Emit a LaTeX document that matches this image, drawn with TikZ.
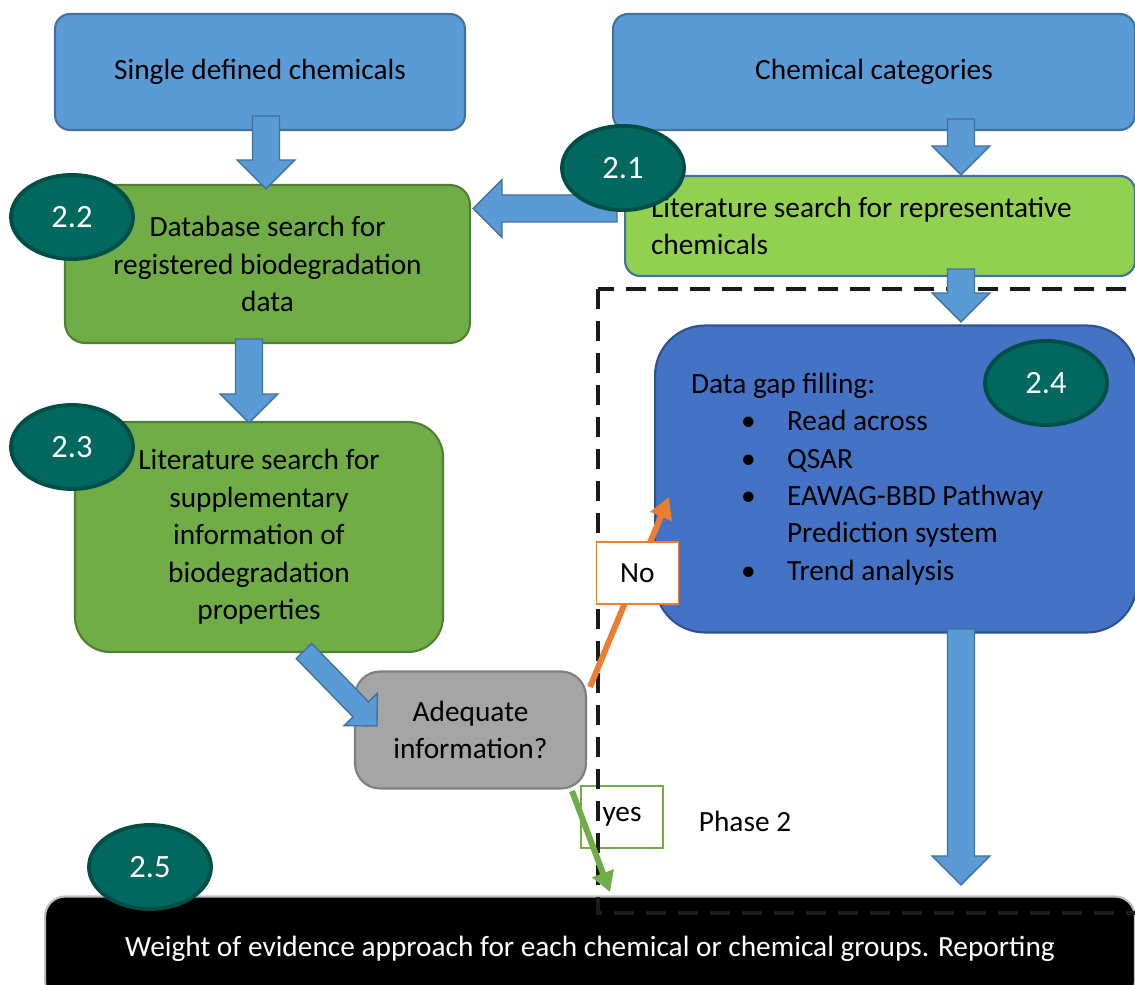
\documentclass[tikz,border=0pt]{standalone}
\usepackage{fontspec}
\setmainfont{Carlito}
\usetikzlibrary{shapes.geometric,arrows.meta,calc}

\definecolor{boxblue}{HTML}{5B9BD5}
\definecolor{boxblueedge}{HTML}{41719C}
\definecolor{boxgreen}{HTML}{70AD47}
\definecolor{boxgreenedge}{HTML}{507E32}
\definecolor{litegreen}{HTML}{92D050}
\definecolor{boxgray}{HTML}{A5A5A5}
\definecolor{boxgrayedge}{HTML}{7F7F7F}
\definecolor{gapblue}{HTML}{4472C4}
\definecolor{gapblueedge}{HTML}{2F528F}
\definecolor{stepteal}{RGB}{0,104,94}
\definecolor{steptealedge}{RGB}{0,78,72}
\definecolor{noorange}{HTML}{ED7D31}
\definecolor{phasegray}{HTML}{1A1A1A}

\newcommand{\boxfont}{\fontsize{16.7}{21.3}\selectfont}
\newcommand{\stepfont}{\fontsize{18.5}{20}\selectfont}
\newcommand{\gapitem}[1]{\makebox[1.92cm][l]{\hspace*{1cm}\textbullet}#1}

\begin{document}
\begin{tikzpicture}[x=0.02cm,y=0.02cm,
  stagebox/.style={draw, line width=1.2pt, rounded corners=#1, align=center,
    inner sep=0pt, font=\boxfont},
  stepnum/.style={ellipse, draw=steptealedge, fill=stepteal, line width=2.2pt,
    text=white, minimum width=2.44cm, minimum height=1.68cm, inner sep=0pt, font=\stepfont},
  answer/.style={draw=#1, fill=white, text=black, line width=0.8pt, minimum width=1.64cm,
    minimum height=1.24cm, font=\boxfont},
  blockarrow/.style={draw=boxblueedge, fill=boxblue, line width=0.8pt,
    to path={let \p1=(\tikztostart), \p2=(\tikztotarget), \n1={atan2(\y2-\y1,\x2-\x1)} in
      ($(\p1)+(\n1+90:#1*0.27cm)$)
      -- ($(\p2)+(\n1+180:#1*0.58cm)+(\n1+90:#1*0.27cm)$)
      -- ($(\p2)+(\n1+180:#1*0.58cm)+(\n1+90:#1*0.58cm)$)
      -- (\p2)
      -- ($(\p2)+(\n1+180:#1*0.58cm)+(\n1-90:#1*0.58cm)$)
      -- ($(\p2)+(\n1+180:#1*0.58cm)+(\n1-90:#1*0.27cm)$)
      -- ($(\p1)+(\n1-90:#1*0.27cm)$) -- cycle}},
  blockarrow/.default=1]
  \useasboundingbox (0,0) rectangle (1135,984);

  \node[stagebox=0.3cm, fill=boxblue, draw=boxblueedge, minimum width=8.2cm, minimum height=2.32cm]
    (single) at (260,912) {Single defined chemicals};
  \node[stagebox=0.3cm, fill=boxblue, draw=boxblueedge, minimum width=10.44cm, minimum height=2.32cm]
    (categ) at (874,912) {Chemical categories};
  \node[stagebox=0.4cm, fill=boxgreen, draw=boxgreenedge, minimum width=8.1cm, minimum height=3.16cm]
    (dbsearch) at (267.5,720) {Database search for\\registered biodegradation\\data};
  \node[stagebox=0.3cm, fill=litegreen, draw=boxblueedge, minimum width=10.2cm, minimum height=2cm,
    text width=9.16cm, align=flush left]
    (litrep) at (880,758) {Literature search for representative\\chemicals};
  \node[stagebox=0.7cm, fill=boxgreen, draw=boxgreenedge, minimum width=7.36cm, minimum height=4.6cm]
    (litsup) at (259,447) {Literature search for\\supplementary\\information of\\biodegradation\\properties};
  \node[stagebox=0.5cm, fill=boxgray, draw=boxgrayedge, minimum width=4.62cm, minimum height=2.34cm]
    (adequate) at (470.5,254) {Adequate\\information?};
  \node[stagebox=1cm, fill=gapblue, draw=gapblueedge, minimum width=9.64cm, minimum height=6.14cm,
    text width=8.2cm, align=flush left]
    (gap) at (896,505) {Data gap filling:\\\gapitem{Read across}\\\gapitem{QSAR}\\
      \gapitem{EAWAG-BBD Pathway}\\\hspace*{1.92cm}Prediction system\\\gapitem{Trend analysis}};
  \node[stagebox=0.4cm, fill=black, draw=gray!50, text=white, minimum width=21.8cm, minimum height=2.1cm]
    (black) at (590,35) {Weight of evidence approach for each chemical or chemical groups. Reporting};
  \node[answer=boxgreen] (yes) at (622,167) {yes};
  \node[font=\boxfont] (phase) at (745,163) {Phase 2};

  \draw[phasegray, line width=2.2pt, dash pattern=on 0.4cm off 0.24cm] (598,695) rectangle (1150,71);

  \draw[blockarrow] ($(single.south)+(6,15)$) to ($(dbsearch.north)+(-1.5,-5)$);
  \draw[blockarrow] ($(categ.south)+(87,12)$) to ($(litrep.north)+(81,0)$);
  \draw[blockarrow] ($(litrep.west)+(-7,17.5)$) to ($(dbsearch.east)+(2,55.5)$);
  \draw[blockarrow] ($(dbsearch.south)+(-18.5,5)$) to ($(litsup.north)+(-10,-2)$);
  \draw[blockarrow] ($(litrep.south)+(81,8)$) to ($(gap.north)+(65,2.5)$);
  \draw[blockarrow] ($(gap.south)+(65,4.5)$) to ($(black.north)+(371,10.5)$);
  \draw[blockarrow=0.8] ($(litsup.south)+(45,2)$) to ($(adequate.west)+(23,4)$);

  \draw[noorange, line width=3.4pt, -{Triangle[length=0.42cm,width=0.44cm]}]
    ($(adequate.north east)+(3,-16.5)$) -- node[answer=noorange, pos=0.6] (no) {No} ($(gap.west)+(15,-18)$);
  \draw[boxgreen, line width=3.4pt, -{Triangle[length=0.4cm,width=0.44cm]}]
    ($(adequate.south east)+(-15,-1.5)$) -- ($(black.north)+(20,3.5)$);

  \node[stepnum] (s21) at (623,816) {2.1};
  \node[stepnum] (s22) at (72,767) {2.2};
  \node[stepnum] (s23) at (72,537) {2.3};
  \node[stepnum] (s24) at (1046,601) {2.4};
  \node[stepnum] (s25) at (150,117) {2.5};
\end{tikzpicture}
\end{document}
